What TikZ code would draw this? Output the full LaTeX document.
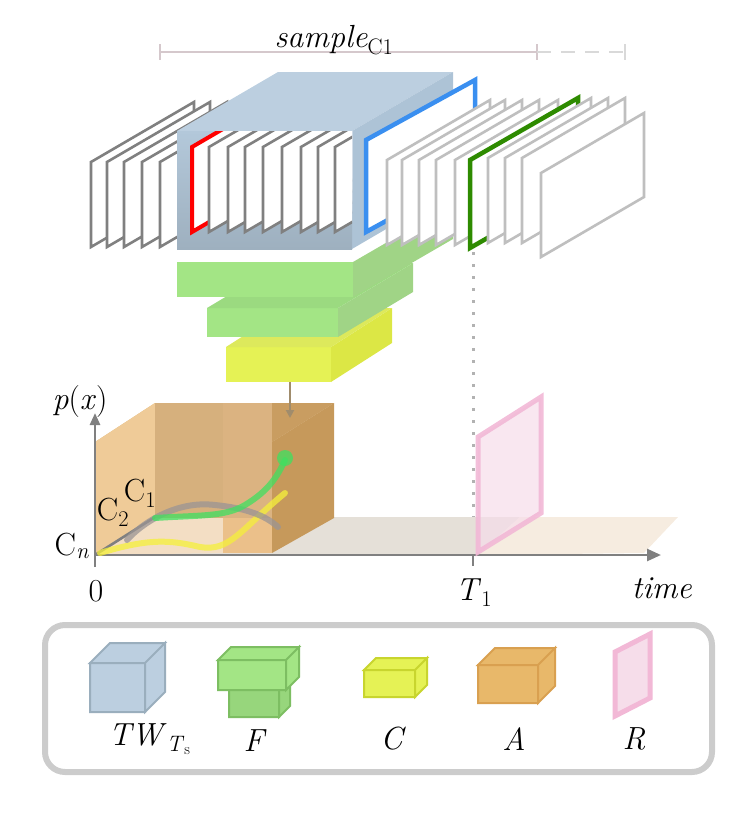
\documentclass[tikz,border=0pt]{standalone}
\usetikzlibrary{arrows.meta}
\definecolor{bxtop}{HTML}{BCCFE0}\definecolor{bxright}{HTML}{ADC3D6}
\definecolor{bxf1}{HTML}{B3C8DA}\definecolor{bxf2}{HTML}{9EB0BF}\definecolor{bxst}{HTML}{9AAEBD}
\definecolor{gfront}{HTML}{A3E585}\definecolor{gright}{HTML}{A0D486}\definecolor{gtop}{HTML}{9BDA80}\definecolor{gst}{HTML}{7DBE62}\definecolor{gdark}{HTML}{97D67C}
\definecolor{yfront}{HTML}{E5F255}\definecolor{yright}{HTML}{DCE745}\definecolor{ytop}{HTML}{DDE95C}\definecolor{yst}{HTML}{C8D52E}
\definecolor{oA}{HTML}{EFCB98}\definecolor{oB}{HTML}{D6B07D}\definecolor{oC}{HTML}{DBB381}\definecolor{oR}{HTML}{C6995B}\definecolor{oT}{HTML}{DFB87F}
\definecolor{oL}{HTML}{F3DEC4}\definecolor{oL2}{HTML}{EBC08A}\definecolor{oleg}{HTML}{E8B86A}\definecolor{ost}{HTML}{D9A050}
\definecolor{fl1}{HTML}{E5E0D8}\definecolor{fl2}{HTML}{F6ECE0}
\definecolor{pkst}{HTML}{F2B8D6}\definecolor{pkfill}{HTML}{F6DDEA}
\definecolor{bar}{HTML}{D5C8CC}\definecolor{bfr}{HTML}{3A8FF0}\definecolor{gfr}{HTML}{2E8B00}
\definecolor{arr}{HTML}{A08C6C}
\definecolor{cg}{HTML}{3FE060}\definecolor{cy}{HTML}{F5F03A}\definecolor{cgr}{HTML}{9A9494}
\newcommand\sub[1]{\textsubscript{#1}}
\begin{document}
\begin{tikzpicture}[x=1pt,y=-1pt,line join=miter,
  dkfr/.style={draw=black!50,line width=2.6pt,fill=white},
  ltfr/.style={draw=black!25,line width=2.6pt,fill=white},
  lbl/.style={font=\fontsize{32}{36}\selectfont,inner sep=0pt},
  axis/.style={draw=black!50,line width=2.6pt}]
\useasboundingbox (0,0) rectangle (745,819);
\newcommand\frm[3]{\draw[#3] (#1,#2) -- ++(0,-85) -- ++(103,-60) -- ++(0,85) -- cycle;}
% top bar
\draw[draw=bar,line width=2pt] (160,52) coordinate (sa) -- (537,52) coordinate (sb);
\draw[draw=bar,line width=2pt] (160,44)--(160,60) (537,44)--(537,60);
\draw[draw=black!15,line width=2pt,dash pattern=on 14pt off 10pt] (sb) -- (625,52) coordinate (sc);
\draw[draw=black!15,line width=2pt] (625,44)--(625,60);
\node[lbl] (samp) at (334,40) {\textit{sample}\sub{C1}};
% slabs
\fill[yfront] (226,347) rectangle (331,382);
\fill[yright] (331,347) -- ++(61,-39) -- ++(0,35) -- (331,382) -- cycle;
\fill[ytop] (226,347) -- ++(61,-39) -- ++(105,0) -- (331,347) -- cycle;
\fill[gfront] (207,308) rectangle (338,337);
\fill[gright] (338,308) -- ++(75,-45) -- ++(0,29) -- (338,337) -- cycle;
\fill[gtop] (207,308) -- ++(75,-45) -- ++(131,0) -- (338,308) -- cycle;
\fill[gfront] (177,262) rectangle (353,297);
\fill[gright] (353,262) -- ++(100,-58) -- ++(0,35) -- (353,297) -- cycle;
% dark frames behind
\foreach \x in {91,107,124,142,160} {\frm{\x}{247}{dkfr}}
% blue box
\fill[bxtop] (177,131) -- (278,72) -- (453,72) -- (352,131) -- cycle;
\fill[bxright] (352,131) -- (453,72) -- (453,190) -- (352,249) -- cycle;
\shade[top color=bxf1,bottom color=bxf2] (177,131) rectangle (352,249);
\begin{scope}
\clip (177,131) rectangle (352,249);
\frm{192}{232}{draw=red,line width=4pt,fill=white}
\foreach \x in {209,228,245,263,282,301,318,335} {\frm{\x}{232}{dkfr}}
\end{scope}
% blue frame
\draw[draw=bfr,line width=4.5pt,fill=white] (366,232) -- (366,140) -- (475,80) -- (475,172) -- cycle;
\foreach \x in {387,402,419,436,455} {\frm{\x}{245}{ltfr}}
\draw[draw=gfr,line width=4.5pt,fill=white] (470,248) coordinate (gf) -- ++(0,-88) -- ++(108,-62) -- ++(0,88) -- cycle;
\foreach \x in {488,505,522} {\frm{\x}{243}{ltfr}}
\draw[ltfr] (541,257) -- (541,173) -- (644,113) -- (644,197) -- cycle;
% dotted
\draw[draw=black!30,line width=3pt,dash pattern=on 3pt off 9pt] (473,252) -- (473,520);
% floor
\fill[fl1] (95,555) -- (478,555) -- (520,517) -- (155,517) -- cycle;
\fill[fl2] (478,555) -- (644,553) -- (678,517) -- (520,517) -- cycle;
% A box (opaque regions)
\fill[oT] (95,442) -- (155,403) -- (334,403) -- (272,442) -- cycle;
\fill[oR] (272,442) -- (334,403) -- (334,518) -- (272,553) -- cycle;
\fill[oA] (95,442) -- (155,403) -- (155,518) -- (95,555) -- cycle;
\fill[oA] (95,442) rectangle (155,518);
\fill[oB] (155,442) rectangle (223,518);
\fill[oC] (223,442) rectangle (272,518);
\fill[oL] (95,555) -- (155,518) -- (223,518) -- (223,553) -- cycle;
\fill[oL2] (223,518) rectangle (272,553);
\fill[oB] (155,403) rectangle (223,442);
\fill[oC] (223,403) rectangle (272,442);
\fill[oR!85!oC] (272,403) -- (334,403) -- (272,442) -- cycle;
% axes
\draw[axis,-{Triangle[length=12pt,width=10pt]}] (95,567) coordinate (o0) -- (95,413) coordinate (py);
\draw[axis,-{Triangle[length=14pt,width=12pt]}] (95,555) -- (661,555) coordinate (tx);
\draw[axis] (95,555) -- (155,517);
\draw[axis] (473,555) -- (473,566);
% curves
\begin{scope}[line width=6pt,line cap=round,opacity=0.75]
\draw[cy] (100,553) .. controls (150,538) and (170,540) .. (200,547) .. controls (230,552) and (240,530) .. (285,493);
\draw[cgr] (127,540) .. controls (140,525) and (175,500) .. (215,505) .. controls (245,508) and (265,515) .. (278,527);
\draw[cg] (155,518) .. controls (200,515) and (225,517) .. (245,505) .. controls (270,490) and (278,475) .. (285,460);
\fill[cg] (285,458) circle (8);
\end{scope}
% arrow
\coordinate (ya) at (290,382);
\coordinate (aa) at (290,418);
\draw[draw=arr,line width=2pt,-{Triangle[length=8pt,width=8pt]}] (ya) -- (aa);
% R frame
\draw[draw=pkst,line width=5pt,fill=pkfill,fill opacity=0.7,draw opacity=0.9] (478,437) -- (541,397) -- (541,513) -- (478,552) -- cycle;
% labels
\node[lbl] (px) at (80,402) {\textit{p}(\textit{x})};
\node[lbl] (c1) at (140,493) {C\sub{1}};
\node[lbl] (c2) at (113,512) {C\sub{2}};
\node[lbl] (cn) at (72,546) {C\sub{\textit{n}}};
\node[lbl] (zero) at (96,591) {0};
\node[lbl] (t1) at (474,593) {\textit{T}\sub{1}};
\node[lbl] (tm) at (662,588) {\textit{time}};
% legend
\draw[draw=black!20,line width=6pt,rounded corners=20pt,fill=white] (45,625) rectangle (712,772);
\begin{scope}[line width=2pt]
\filldraw[draw=bxst,fill=bxtop] (90,663) rectangle (145,712) (90,663) -- ++(20,-20) -- ++(55,0) -- (145,663) -- cycle (145,663) -- (165,643) -- (165,692) -- (145,712) -- cycle;
\filldraw[draw=gst,fill=gdark] (229,688) rectangle (279,717) (279,688) -- (290,677) -- (290,706) -- (279,717) -- cycle;
\filldraw[draw=gst,fill=gfront] (218,660) rectangle (286,690) (218,660) -- ++(13,-13) -- ++(68,0) -- (286,660) -- cycle (286,660) -- (299,647) -- (299,677) -- (286,690) -- cycle;
\filldraw[draw=yst,fill=yfront] (364,670) rectangle (415,697) (364,670) -- ++(12,-12) -- ++(51,0) -- (415,670) -- cycle (415,670) -- (427,658) -- (427,685) -- (415,697) -- cycle;
\filldraw[draw=ost,fill=oleg] (478,665) rectangle (538,703) (478,665) -- ++(17,-17) -- ++(60,0) -- (538,665) -- cycle (538,665) -- (555,648) -- (555,686) -- (538,703) -- cycle;
\filldraw[draw=pkst,line width=5pt,fill=pkfill] (615,652) -- (650,634) -- (650,698) -- (615,716) -- cycle;
\end{scope}
\node[lbl] (ltw) at (150,739) {\textit{TW}\sub{\textit{T}\sub{s}}};
\node[lbl] (lf) at (255,741) {\textit{F}};
\node[lbl] (lc) at (393,739) {\textit{C}};
\node[lbl] (la) at (514,739) {\textit{A}};
\node[lbl] (lr) at (634,739) {\textit{R}};
\end{tikzpicture}
\end{document}
